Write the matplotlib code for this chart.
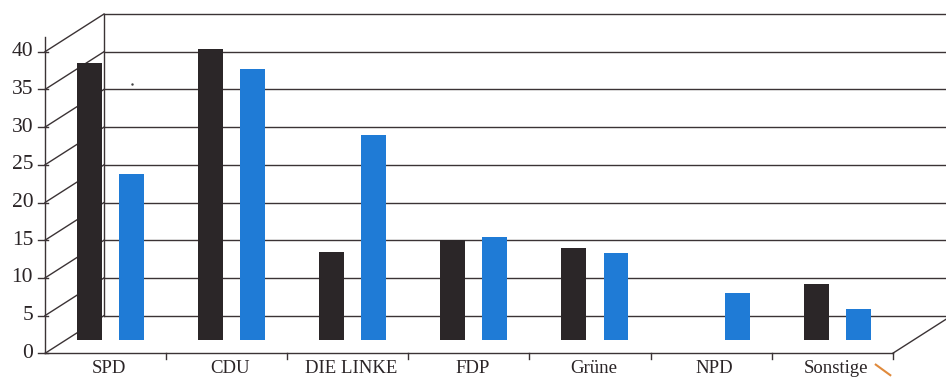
import numpy as np
import matplotlib.pyplot as plt

# parties and the two series
parties = ['SPD', 'CDU', 'DIE LINKE', 'FDP', 'Grüne', 'NPD', 'Sonstige']
series_black = [36.8, 38.6, 11.7, 13.3, 12.2, 0.0, 7.5]
series_blue = [22.0, 35.9, 27.2, 13.7, 11.6, 6.3, 4.1]
y_ticks = [0, 5, 10, 15, 20, 25, 30, 35, 40]

# pseudo 3d geometry (in data units)
depth_dx = 0.487      # back wall shift to the right, in categories
depth_dy = 5.0        # back wall shift upward, in value units
bar_base = 1.76       # bars stand at mid depth
bar_w = 0.206
line_col = '#3b3335'

fig = plt.figure(figsize=(9.46, 3.77), dpi=100)
ax = fig.add_axes([0, 0, 1, 1])
ax.set_xlim(-0.3716, 7.440)
ax.set_ylim(-3.14, 46.86)
ax.axis('off')

n = len(parties)

# back wall grid + diagonals from the front ticks
for v in y_ticks:
    ax.plot([0, depth_dx], [v, v + depth_dy], color=line_col, lw=1.0, zorder=1)
    ax.plot([depth_dx, n + depth_dx], [v + depth_dy, v + depth_dy],
            color=line_col, lw=1.0, zorder=1)
    # tick mark on the front axis
    ax.plot([-0.055, 0.025], [v, v], color=line_col, lw=1.0, zorder=1)
    ax.text(-0.098, v, str(v), ha='right', va='center', fontsize=15.5,
            family='Liberation Serif', color='#2a2426')

# back wall left edge, front axis, floor
ax.plot([depth_dx, depth_dx], [depth_dy, y_ticks[-1] + depth_dy], color=line_col, lw=1.0, zorder=1)
ax.plot([0, 0], [0, 41.9], color=line_col, lw=1.0, zorder=1)
ax.plot([0, n], [0, 0], color=line_col, lw=1.0, zorder=1)
ax.plot([n, n + depth_dx], [0, depth_dy], color=line_col, lw=1.0, zorder=1)
for i in range(1, n + 1):
    ax.plot([i, i], [0, -0.7], color=line_col, lw=1.0, zorder=1)

# bars (a zero value draws nothing)
x = np.arange(n) + 0.541
ax.bar(x - 0.174, series_black, width=bar_w, bottom=bar_base,
       color='#2b2628', lw=0, zorder=3)
ax.bar(x + 0.174, series_blue, width=bar_w, bottom=bar_base,
       color='#1f7bd6', lw=0, zorder=3)

# category labels
for i, name in enumerate(parties):
    ax.text(i + 0.53, -1.95, name, ha='center', va='center', fontsize=13.5,
            family='Liberation Serif', color='#2a2426')

# small scan marks
ax.plot([0.72], [35.7], marker='.', ms=1.5, color='#444444')
ax.plot([6.86, 6.98], [-1.5, -2.9], color='#e08a3c', lw=1.5)

fig.savefig('out.png', dpi=100)
